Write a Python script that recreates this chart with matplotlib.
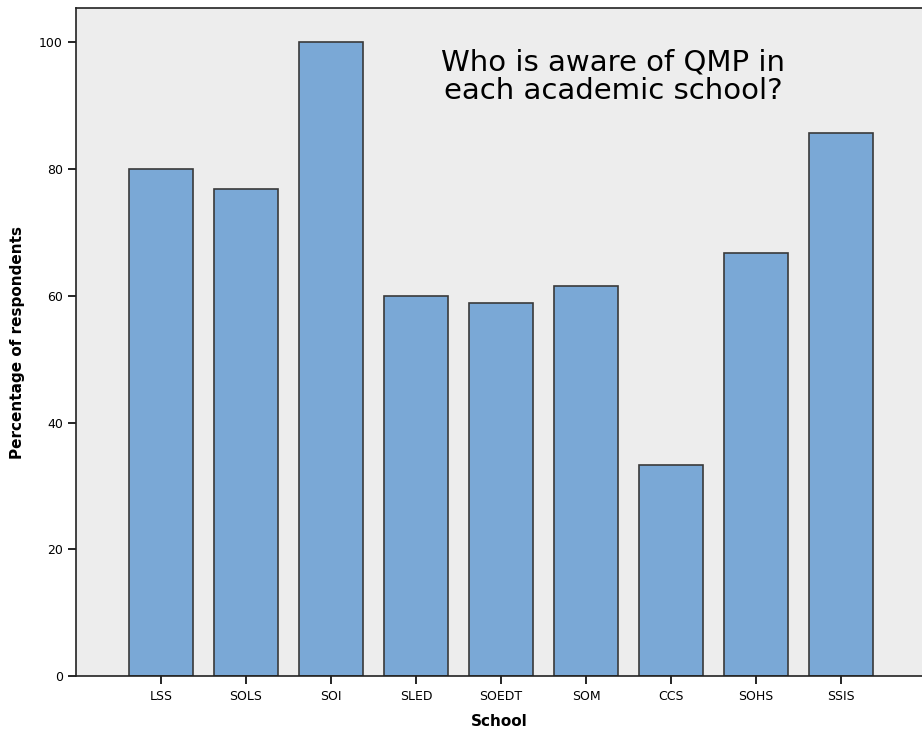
import matplotlib
matplotlib.use('Agg')
import matplotlib.pyplot as plt
import numpy as np

matplotlib.rcParams['font.family'] = 'DejaVu Sans'

schools = ['LSS', 'SOLS', 'SOI', 'SLED', 'SOEDT', 'SOM', 'CCS', 'SOHS', 'SSIS']
pct_aware = [80.0, 76.9, 100.0, 60.0, 58.8, 61.5, 33.3, 66.7, 85.7]

fig = plt.figure(figsize=(9.22, 7.42), dpi=100)
ax = fig.add_axes([0.0824, 0.089, 1.0 - 0.0824, 0.989 - 0.089])

x = np.arange(len(schools))
ax.bar(x, pct_aware, width=0.75, color='#7aa8d6', edgecolor='#3a3a3a', linewidth=1.2, zorder=2)

ax.set_facecolor('#ededed')
ax.set_xlim(-1.0, 8.95)
ax.set_ylim(0, 105.4)
ax.set_yticks([0, 20, 40, 60, 80, 100])
ax.set_xticks(x)
ax.set_xticklabels(schools, fontsize=9)
ax.tick_params(axis='y', labelsize=9, length=6, width=1.2, direction='out')
ax.tick_params(axis='x', length=6, width=1.2, direction='out', pad=4)
for side in ['left', 'bottom', 'top']:
    ax.spines[side].set_linewidth(1.2)
    ax.spines[side].set_color('#222222')
ax.spines['right'].set_visible(False)

ax.set_xlabel('School', fontsize=11, fontweight='bold', labelpad=8)
ax.set_ylabel('Percentage of respondents', fontsize=11, fontweight='bold', labelpad=10)

ax.text(0.635, 0.94, 'Who is aware of QMP in\neach academic school?', transform=ax.transAxes,
        ha='center', va='top', fontsize=21, linespacing=1.05)

plt.savefig('out.png', dpi=100)
